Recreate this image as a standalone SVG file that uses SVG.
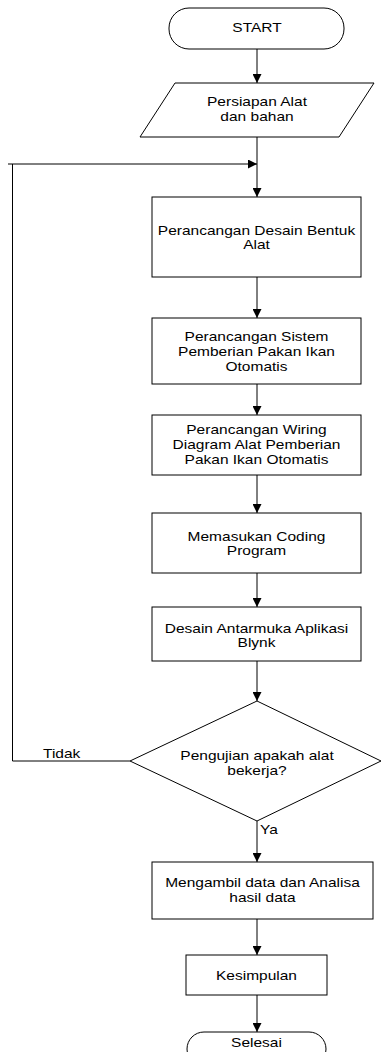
<svg xmlns="http://www.w3.org/2000/svg" width="382" height="1052" viewBox="0 0 382 1052">
<defs>
<style>
.shape{fill:#fff;stroke:#000;stroke-width:1}
.conn{fill:none;stroke:#000;stroke-width:1}
.t{font-family:"Liberation Sans",Arial,sans-serif;font-size:12.5px;fill:#000;text-anchor:middle}
.tl{font-family:"Liberation Sans",Arial,sans-serif;font-size:12.5px;fill:#000;text-anchor:start}
</style>
<marker id="arr" viewBox="0 0 10 10" refX="10" refY="5" markerWidth="9" markerHeight="9" markerUnits="userSpaceOnUse" orient="auto">
<path d="M0,0 L10,5 L0,10 Z" fill="#000"/>
</marker>
</defs>
<rect width="382" height="1052" fill="#fff"/>
<g id="connectors">
<line class="conn" x1="257" y1="49" x2="257" y2="83" marker-end="url(#arr)"/>
<line class="conn" x1="257" y1="137" x2="257" y2="197" marker-end="url(#arr)"/>
<polyline class="conn" points="130,761 12.5,761 12.5,164"/>
<line class="conn" x1="8" y1="164" x2="257" y2="164" marker-end="url(#arr)"/>
<line class="conn" x1="257" y1="277" x2="257" y2="318" marker-end="url(#arr)"/>
<line class="conn" x1="257" y1="384" x2="257" y2="415" marker-end="url(#arr)"/>
<line class="conn" x1="257" y1="475" x2="257" y2="513" marker-end="url(#arr)"/>
<line class="conn" x1="257" y1="573" x2="257" y2="607" marker-end="url(#arr)"/>
<line class="conn" x1="257" y1="661" x2="257" y2="701" marker-end="url(#arr)"/>
<line class="conn" x1="257" y1="821" x2="257" y2="862" marker-end="url(#arr)"/>
<line class="conn" x1="257" y1="919" x2="257" y2="955" marker-end="url(#arr)"/>
<line class="conn" x1="257" y1="995" x2="257" y2="1032" marker-end="url(#arr)"/>
<text class="tl" transform="translate(43,758) scale(1.24,1)">Tidak</text>
<text class="tl" transform="translate(260,834) scale(1.24,1)">Ya</text>
</g>
<g id="start">
<rect class="shape" x="169" y="8" width="175" height="41" rx="20" ry="20"/>
<text class="t" transform="translate(257,32) scale(1.24,1)">START</text>
</g>
<g id="persiapan">
<polygon class="shape" points="175,83 374,83 339,137 140,137"/>
<text class="t" transform="translate(257,106) scale(1.24,1)">Persiapan Alat</text>
<text class="t" transform="translate(257,121) scale(1.24,1)">dan bahan</text>
</g>
<g id="desain">
<rect class="shape" x="152" y="197" width="209" height="80"/>
<text class="t" transform="translate(256.5,235) scale(1.24,1)">Perancangan Desain Bentuk</text>
<text class="t" transform="translate(256.5,249) scale(1.24,1)">Alat</text>
</g>
<g id="sistem">
<rect class="shape" x="152" y="318" width="209" height="66"/>
<text class="t" transform="translate(256.5,341) scale(1.24,1)">Perancangan Sistem</text>
<text class="t" transform="translate(256.5,356) scale(1.24,1)">Pemberian Pakan Ikan</text>
<text class="t" transform="translate(256.5,371) scale(1.24,1)">Otomatis</text>
</g>
<g id="wiring">
<rect class="shape" x="152" y="415" width="209" height="60"/>
<text class="t" transform="translate(256.5,434) scale(1.24,1)">Perancangan Wiring</text>
<text class="t" transform="translate(256.5,449) scale(1.24,1)">Diagram Alat Pemberian</text>
<text class="t" transform="translate(256.5,464) scale(1.24,1)">Pakan Ikan Otomatis</text>
</g>
<g id="coding">
<rect class="shape" x="152" y="513" width="209" height="60"/>
<text class="t" transform="translate(256.5,541) scale(1.24,1)">Memasukan Coding</text>
<text class="t" transform="translate(256.5,555) scale(1.24,1)">Program</text>
</g>
<g id="blynk">
<rect class="shape" x="152" y="607" width="209" height="54"/>
<text class="t" transform="translate(256.5,633) scale(1.24,1)">Desain Antarmuka Aplikasi</text>
<text class="t" transform="translate(256.5,647) scale(1.24,1)">Blynk</text>
</g>
<g id="pengujian">
<polygon class="shape" points="257,701 381,761 257,821 130,761"/>
<text class="t" transform="translate(257,760) scale(1.24,1)">Pengujian apakah alat</text>
<text class="t" transform="translate(257,775) scale(1.24,1)">bekerja?</text>
</g>
<g id="analisa">
<rect class="shape" x="152" y="862" width="221" height="57"/>
<text class="t" transform="translate(262.5,887) scale(1.24,1)">Mengambil data dan Analisa</text>
<text class="t" transform="translate(262.5,902) scale(1.24,1)">hasil data</text>
</g>
<g id="kesimpulan">
<rect class="shape" x="186" y="955" width="141" height="40"/>
<text class="t" transform="translate(256.5,980) scale(1.24,1)">Kesimpulan</text>
</g>
<g id="selesai">
<rect class="shape" x="187" y="1032" width="139" height="34" rx="17" ry="17"/>
<text class="t" transform="translate(256.5,1047) scale(1.24,1)">Selesai</text>
</g>
</svg>
